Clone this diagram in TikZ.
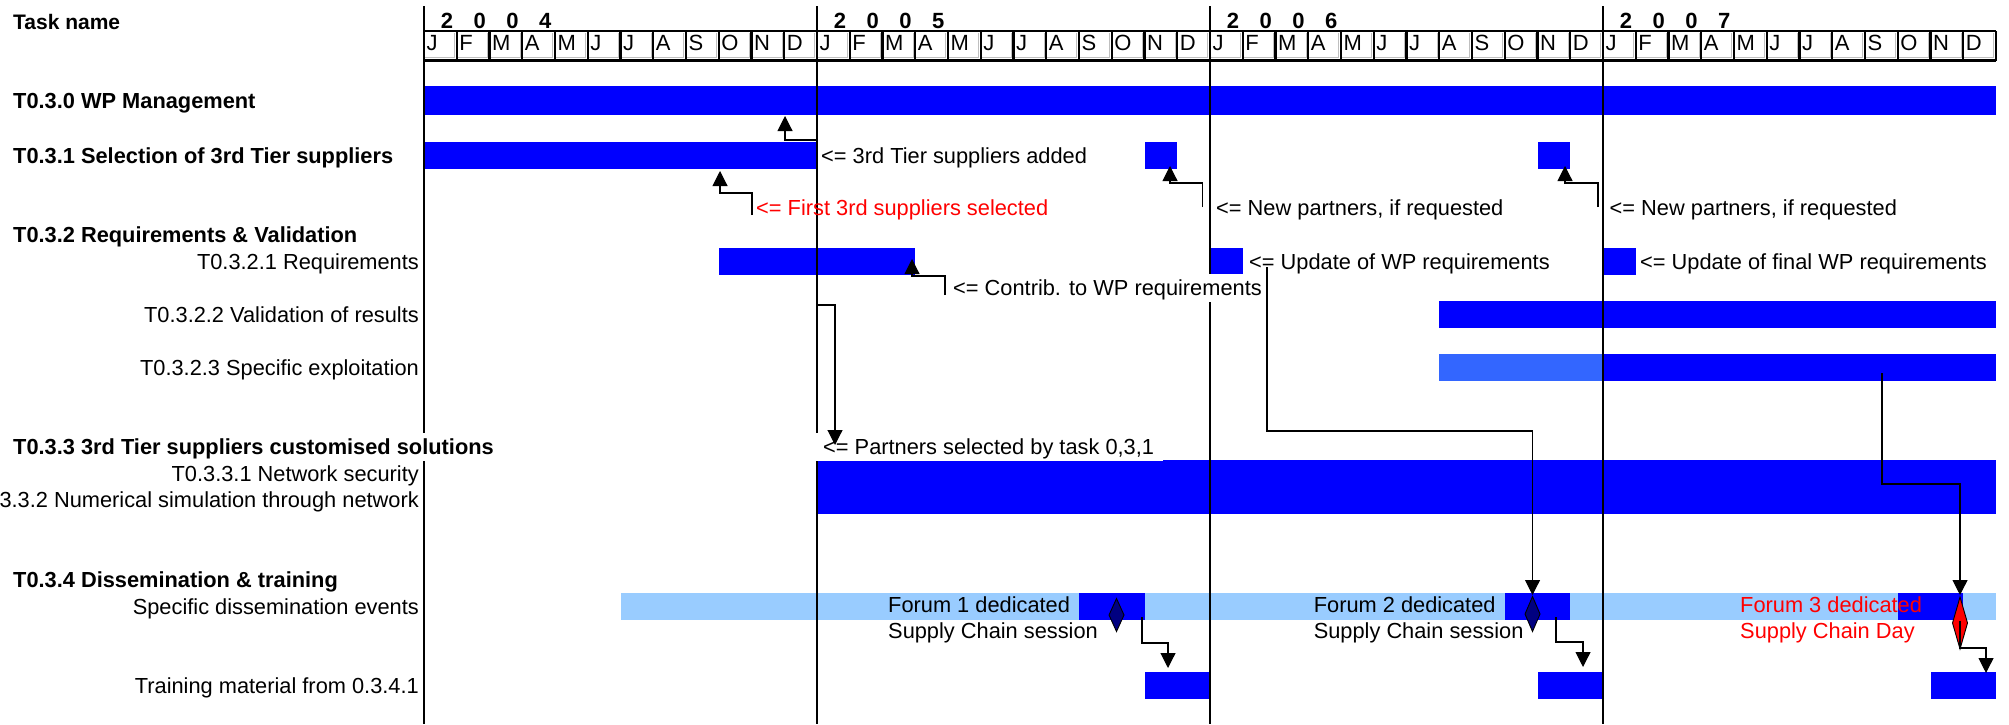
\documentclass[tikz,border=0pt]{standalone}
\usepackage{fontspec}
\setmainfont{Liberation Sans}
\usetikzlibrary{arrows.meta,shapes.geometric}
\definecolor{dblue}{HTML}{0000FF}
\definecolor{lblue}{HTML}{99CCFF}
\definecolor{mblue}{HTML}{3366FF}
\definecolor{navyc}{HTML}{000080}
\definecolor{redc}{HTML}{FF0000}
\tikzset{
  bar/.style={draw=none, inner sep=0pt, outer sep=0pt, anchor=north west},
  conn/.style={draw=black, line width=1.1pt, -{Triangle[length=15pt,width=15pt]}},
  lbl/.style={font=\fontsize{21.8}{25}\selectfont, inner sep=0pt, text height=15.6pt, text depth=0pt},
  blbl/.style={lbl, font=\fontsize{21.8}{25}\selectfont\bfseries},
  wbox/.style={fill=white, inner xsep=3pt, inner ysep=6.3pt},
  yearline/.style={line width=2.6pt},
  headrule/.style={line width=2.5pt},
  cellsep/.style={line width=2.2pt},
  cellshade/.style={line width=1pt, draw=gray!50},
  monthlbl/.style={font=\fontsize{22}{24}\selectfont, inner sep=0pt, text height=15.7pt, text depth=0pt, anchor=west},
  yearlbl/.style={font=\fontsize{22}{24}\selectfont\bfseries, inner sep=0pt, text height=15.7pt, text depth=0pt},
  milestone/.style={diamond, draw=black, line width=0.9pt, inner sep=0pt, outer sep=0pt},
}
\newcommand\ganttbar[6]{\node[bar, fill=#6, minimum width={#4pt-#2pt}, minimum height={#5pt-#3pt}] (#1) at (#2,#3) {};}
\begin{document}
\begin{tikzpicture}[x=1pt,y=-1pt]
\useasboundingbox (0,0) rectangle (2009,724);
\fill[white] (0,0) rectangle (2009,724);

% ---------- bars ----------
\ganttbar{wp}{424}{86}{1996}{115}{dblue}
\ganttbar{sel}{424}{142}{817}{169}{dblue}
\ganttbar{selb1}{1144.5}{142}{1177.25}{169}{dblue}
\ganttbar{selb2}{1537.5}{142}{1570.25}{169}{dblue}
\ganttbar{req}{718.75}{248}{915.25}{275}{dblue}
\ganttbar{upd1}{1210}{248}{1242.75}{275}{dblue}
\ganttbar{upd2}{1603}{248}{1635.75}{275}{dblue}
\ganttbar{val}{1439.25}{301}{1996}{328}{dblue}
\ganttbar{explA}{1439.25}{354}{1603}{381}{mblue}
\ganttbar{explB}{1603}{354}{1996}{381}{dblue}
\ganttbar{net}{817}{460}{1996}{514}{dblue}
\ganttbar{diss}{620.5}{593}{1996}{620}{lblue}
\ganttbar{fo1}{1079}{593}{1144.5}{620}{dblue}
\ganttbar{fo2}{1504.75}{593}{1570.25}{620}{dblue}
\ganttbar{fo3}{1897.75}{593}{1963.25}{620}{dblue}
\ganttbar{tr1}{1144.5}{672}{1210}{699}{dblue}
\ganttbar{tr2}{1537.5}{672}{1603}{699}{dblue}
\ganttbar{tr3}{1930.5}{672}{1996}{699}{dblue}

% ---------- header ----------
\foreach \i in {0,...,47}{
  \pgfmathsetmacro\xl{424+\i*32.75}
  \draw[cellshade] ({\xl+30.6},33) -- ({\xl+30.6},57.3) -- ({\xl+1},57.3);
  \draw[cellsep] (\xl,31.2) -- (\xl,60.5);
}
\draw[cellsep] (1996,31.2) -- (1996,60.5);
\draw[headrule] (424,31.2) -- (1996,31.2);
\draw[headrule] (424,60.5) -- (1996,60.5);
\foreach \yr/\lastd in {0/4,1/5,2/6,3/7}{
  \foreach \m [count=\k from 0] in {J,F,M,A,M,J,J,A,S,O,N,D}{
    \node[monthlbl] (m-\yr-\k) at ({424+(\yr*12+\k)*32.75+2.5},43) {\m};
  }
  \foreach \d [count=\k from 0] in {2,0,0,\lastd}{
    \node[yearlbl] (y-\yr-\k) at ({424+\yr*393+23+\k*32.75},20.3) {\d};
  }
}

% ---------- year lines ----------
\foreach \x in {424,817,1210,1603}{
  \draw[yearline] (\x,6) -- (\x,724);
}

% ---------- white-boxed labels ----------
\node[blbl, wbox, anchor=west] (t33) at (10,447) {T0.3.3 3rd Tier suppliers customised solutions};
\node[lbl, wbox, anchor=west] (a7) at (950,288) {<= Contrib. to WP requirements};
\node[lbl, wbox, inner xsep=9pt, anchor=west] (a8) at (814,447) {<= Partners selected by task 0,3,1};

% ---------- task names ----------
\node[blbl, font=\fontsize{21}{24}\selectfont\bfseries, anchor=west] (tn) at (13,22) {Task name};
\node[blbl, anchor=west] (t30) at (13,100.5) {T0.3.0 WP Management};
\node[blbl, anchor=west] (t31) at (13,155.5) {T0.3.1 Selection of 3rd Tier suppliers};
\node[blbl, anchor=west] (t32) at (13,234.5) {T0.3.2 Requirements \& Validation};
\node[lbl, anchor=east] (t321) at (419,261.5) {T0.3.2.1 Requirements};
\node[lbl, anchor=east] (t322) at (419,314.5) {T0.3.2.2 Validation of results};
\node[lbl, anchor=east] (t323) at (419,367.5) {T0.3.2.3 Specific exploitation};
\node[lbl, anchor=east] (t331) at (419,473.5) {T0.3.3.1 Network security};
\node[lbl, anchor=east] (t332) at (419,500) {T0.3.3.2 Numerical simulation through network};
\node[blbl, anchor=west] (t34) at (13,580) {T0.3.4 Dissemination \& training};
\node[lbl, anchor=east] (t341) at (419,606.5) {Specific dissemination events};
\node[lbl, anchor=east] (t342) at (419,685.5) {Training material from 0.3.4.1};

% ---------- chart annotations ----------
\node[lbl, anchor=west] (a1) at (821,155.5) {<= 3rd Tier suppliers added};
\node[lbl, anchor=west, text=redc] (a2) at (756,208) {<= First 3rd suppliers selected};
\node[lbl, anchor=west] (a3) at (1216,208) {<= New partners, if requested};
\node[lbl, anchor=west] (a4) at (1609.5,208) {<= New partners, if requested};
\node[lbl, anchor=west] (a5) at (1249,261.5) {<= Update of WP requirements};
\node[lbl, anchor=west] (a6) at (1640,261.5) {<= Update of final WP requirements};
\node[lbl, anchor=west] (f1a) at (888,605) {Forum 1 dedicated};
\node[lbl, anchor=west] (f1b) at (888,631) {Supply Chain session};
\node[lbl, anchor=west] (f2a) at (1313.6,605) {Forum 2 dedicated};
\node[lbl, anchor=west] (f2b) at (1313.6,631) {Supply Chain session};
\node[lbl, anchor=west, text=redc] (f3a) at (1740,605) {Forum 3 dedicated};
\node[lbl, anchor=west, text=redc] (f3b) at (1740,631) {Supply Chain Day};

% ---------- milestones ----------
\node[milestone, fill=navyc, minimum width=15pt, minimum height=33pt] (d1) at (1116.5,615) {};
\node[milestone, fill=navyc, minimum width=15pt, minimum height=35pt] (d2) at (1532.5,614) {};
\node[milestone, fill=redc, minimum width=15pt, minimum height=52pt] (d3) at (1960,623) {};

% ---------- connectors ----------
\coordinate (c1s) at (817,140);   \coordinate (c1e) at (785,116);
\coordinate (c2s) at (752,215);   \coordinate (c2e) at (720,171);
\coordinate (c3s) at (1202.5,207); \coordinate (c3e) at (1170,166);
\coordinate (c4s) at (1598,207);  \coordinate (c4e) at (1565,166);
\coordinate (c5s) at (945,295);   \coordinate (c5e) at (912,259);
\coordinate (c6s) at (818,305);   \coordinate (c6e) at (835,445);
\coordinate (c7s) at (1267,267);  \coordinate (c7e) at (1532.5,595);
\coordinate (c8s) at (1882,373);  \coordinate (c8e) at (1960,595);
\coordinate (c9s) at (1142,617);  \coordinate (c9e) at (1168,668);
\coordinate (c10s) at (1556,617); \coordinate (c10e) at (1583,667);
\coordinate (c11s) at (1960,621); \coordinate (c11e) at (1986,673);

\draw[conn] (c1s) -| (c1e);
\draw[conn] (c2s) -- ++(0,-22) -| (c2e);
\draw[conn] (c3s) -- ++(0,-24) -| (c3e);
\draw[conn] (c4s) -- ++(0,-24) -| (c4e);
\draw[conn] (c5s) -- ++(0,-19) -| (c5e);
\draw[conn] (c6s) -| (c6e);
\draw[conn] (c7s) -- ++(0,164) -| (c7e);
\draw[conn] (c8s) -- ++(0,111) -| (c8e);
\draw[conn] (c9s) -- ++(0,26) -| (c9e);
\draw[conn] (c10s) -- ++(0,25) -| (c10e);
\draw[conn] (c11s) -- ++(0,27) -| (c11e);
\end{tikzpicture}
\end{document}
